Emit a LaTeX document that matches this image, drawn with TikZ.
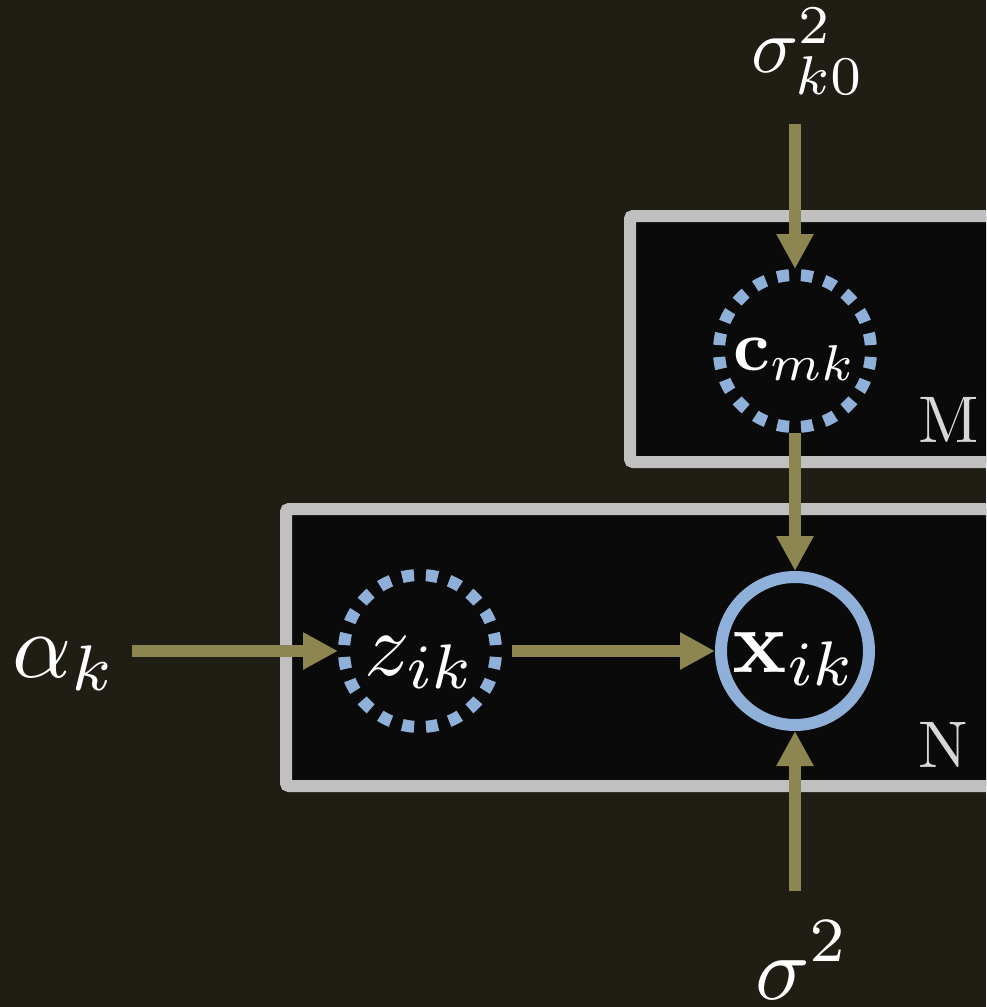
\documentclass[tikz,border=0pt]{standalone}
\usetikzlibrary{arrows.meta}
\usepackage{graphicx}
\usepackage{amsmath}
\definecolor{bgc}{HTML}{201D14}
\definecolor{platefill}{HTML}{0A0A0A}
\definecolor{plateline}{HTML}{C0C0C0}
\definecolor{arrowc}{HTML}{8E8650}
\definecolor{nodeblue}{HTML}{8FB1D9}
\definecolor{platelabel}{HTML}{D8D8D8}
\newcommand{\sizedmath}[2]{\scalebox{#1}{$#2$}}
\begin{document}
\begin{tikzpicture}[x=1pt,y=-1pt,
  plate/.style={draw=plateline, fill=platefill, line width=12pt, rounded corners=3pt},
  latent/.style={circle, draw=nodeblue, line width=12pt,
    dash pattern=on 12pt off 11.88pt, dash phase=17.94pt,
    minimum size=152pt, inner sep=0pt, text=white},
  observed/.style={circle, draw=nodeblue, line width=12pt, minimum size=148pt,
    inner sep=0pt, text=white},
  edgearrow/.style={draw=arrowc, line width=12pt, -{Triangle[length=35pt,width=35pt]}},
  freelabel/.style={inner sep=0pt, anchor=base west, text=white},
  platetext/.style={inner sep=0pt, anchor=base west, text=platelabel}
]
\useasboundingbox (0,0) rectangle (986,1007);
\fill[bgc] (0,0) rectangle (986,1007);
\begin{scope}
\clip (0,0) rectangle (986,1007);
\draw[plate] (630,216) rectangle (1010,462);
\draw[plate] (286,509) rectangle (1010,786);

\node[latent, text height=38pt, text depth=0pt] (c) at (795,351) {\sizedmath{7.2}{\mathbf{c}_{mk}}};
\node[latent, text height=48pt, text depth=0pt] (z) at (420,651) {\sizedmath{9}{z_{ik}}};
\node[observed, text height=42pt, text depth=0pt] (x) at (795,651) {\sizedmath{9}{\mathbf{x}_{ik}}};

\node[freelabel] (s0) at (751,72) {\sizedmath{7.8}{\sigma^2_{k0}}};
\node[freelabel] (alpha) at (12,677) {\sizedmath{9.2}{\alpha_k}};
\node[freelabel] (s) at (755,999) {\sizedmath{9}{\displaystyle\sigma^2}};
\node[platetext] (M) at (918,442) {\scalebox{6.6}{M}};
\node[platetext] (N) at (918,767) {\scalebox{6.6}{N}};

\draw[edgearrow, shorten <=15pt] (alpha.east |- z.west) -- (z.west);
\draw[edgearrow, shorten <=10pt] (z.east) -- (x.west);
\draw[edgearrow, shorten <=30pt] (c.north |- s0.south) -- (c.north);
\draw[edgearrow] (c.south) -- (x.north);
\draw[edgearrow, shorten <=30pt] (x.south |- s.north) -- (x.south);
\end{scope}
\end{tikzpicture}
\end{document}
